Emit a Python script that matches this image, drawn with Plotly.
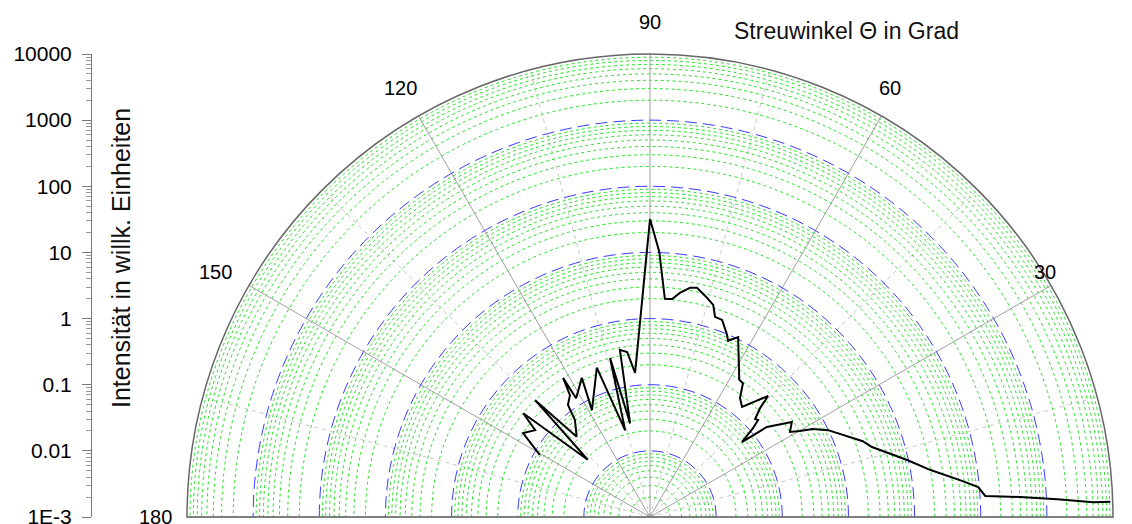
import plotly.graph_objects as go

# ---- data (scattering angle in degrees, intensity in arbitrary units) ----
theta_deg = [1.9, 1.9, 2.5, 3.1, 3.6, 5.2, 6.6, 9.5, 12.5, 17.5, 19.6, 26.0, 28.4, 29.8,
             31.3, 33.8, 37.6, 39.2, 40.8, 41.9, 43.0, 44.7, 45.7, 50.1, 52.9, 55.2,
             57.0, 63.9, 66.1, 67.1, 69.9, 72.0, 73.4, 75.4, 78.4, 80.1, 82.4, 84.2,
             86.1, 88.0, 90.0, 95.9, 97.9, 100.2, 102.0, 104.1, 106.0, 109.6, 118.5,
             116.1, 121.9, 122.0, 123.3, 126.2, 127.7, 132.4, 134.5, 137.4, 140.7,
             142.9, 146.5, 150.6]
intensity = [9200, 5100, 1460, 400, 120, 96, 56, 20, 9.6, 3.3, 2.6, 0.99, 0.63, 0.41,
             0.30, 0.38, 0.17, 0.062, 0.115, 0.157, 0.149, 0.22, 0.36, 0.148, 0.18, 0.29,
             0.30, 1.07, 0.82, 0.98, 1.49, 1.52, 2.22, 2.65, 3.44, 3.29, 2.62, 2.06,
             2.02, 10.3, 32, 0.155, 0.33, 0.37, 0.028, 0.30, 0.023, 0.25, 0.069,
             0.22, 0.13, 0.30, 0.16, 0.126, 0.072, 0.044, 0.30, 0.019, 0.30,
             0.15, 0.20, 0.082]

angle_ticks = [0, 30, 60, 90, 120, 150, 180]
angle_minor = [15, 45, 75, 105, 135, 165]
decade_vals = [1e-3, 1e-2, 1e-1, 1, 10, 100, 1000, 10000]
decade_text = ["1E-3", "0.01", "0.1", "1", "10", "100", "1000", "10000"]

major_grid = decade_vals[1:-1]
minor_vals = [m * d for d in decade_vals[:-1] for m in range(2, 10)]

FONT = "Liberation Sans, Arial, sans-serif"
W, H = 1132, 524

# label anchor positions (paper pixels from top-left) for the angle labels
angle_label_pos = {0: (1124, 509), 30: (1037, 264), 60: (882, 80), 90: (642, 14),
                   120: (392, 80), 150: (207, 264), 180: (147, 509)}

fig = go.Figure()

# underlying polar: minor (green) circles and dashed 15° spokes
fig.add_trace(go.Scatterpolar(r=[], theta=[], subplot="polar", showlegend=False,
                              mode="lines", hoverinfo="skip"))
# data curve on top polar
fig.add_trace(go.Scatterpolar(r=intensity, theta=theta_deg, subplot="polar2",
                              mode="lines", line=dict(color="black", width=2),
                              showlegend=False))
# dummy trace for the left intensity axis
fig.add_trace(go.Scatter(x=[0], y=[1], mode="markers", marker=dict(opacity=0),
                         showlegend=False, hoverinfo="skip", xaxis="x", yaxis="y"))

dom_x = [179 / W, 1105 / W]
dom_y = [15 / H, 478 / H]

annotations = [
    dict(text="Intensität in willk. Einheiten", x=113 / W, y=274 / H,
         xref="paper", yref="paper", textangle=-90, showarrow=False,
         font=dict(size=25, family=FONT, color="#111111"),
         xanchor="center", yanchor="middle"),
    dict(text="Streuwinkel Θ in Grad", x=838 / W, y=501 / H,
         xref="paper", yref="paper", showarrow=False,
         font=dict(size=23, family=FONT, color="#111111"),
         xanchor="center", yanchor="middle"),
]
for a in angle_ticks:
    px, py = angle_label_pos[a]
    annotations.append(dict(text=str(a), x=px / W, y=(H - py) / H,
                            xref="paper", yref="paper", showarrow=False,
                            font=dict(size=20, family=FONT, color="black"),
                            xanchor="center", yanchor="middle"))

fig.update_layout(
    width=W, height=H,
    margin=dict(l=0, r=0, t=0, b=0, autoexpand=False),
    paper_bgcolor="white", plot_bgcolor="rgba(0,0,0,0)",
    font=dict(family=FONT, color="black"),
    polar=dict(
        domain=dict(x=dom_x, y=dom_y),
        sector=[0, 180],
        bgcolor="rgba(0,0,0,0)",
        radialaxis=dict(type="log", range=[-3, 4], tickvals=minor_vals,
                        showticklabels=False, ticks="", showline=False,
                        gridcolor="#22e022", griddash="3px,3px", gridwidth=1),
        angularaxis=dict(tickvals=angle_minor, showticklabels=False, ticks="",
                         showline=False, gridcolor="#c8c8c8", griddash="4px,4px",
                         gridwidth=1),
    ),
    polar2=dict(
        domain=dict(x=dom_x, y=dom_y),
        sector=[0, 180],
        bgcolor="rgba(0,0,0,0)",
        radialaxis=dict(type="log", range=[-3, 4], tickvals=major_grid,
                        showticklabels=False, ticks="", showline=False,
                        gridcolor="#3a3aff", griddash="12px,6px", gridwidth=1),
        angularaxis=dict(tickvals=angle_ticks, showticklabels=False, ticks="",
                         showline=True, linecolor="#666666", linewidth=1.5,
                         gridcolor="#a0a0a0", gridwidth=1),
    ),
    xaxis=dict(domain=[84 / W, 85 / W], visible=False, range=[0, 1]),
    yaxis=dict(type="log", range=[-3, 4], domain=dom_y,
               anchor="x", side="left", automargin=False,
               tickvals=decade_vals, ticktext=decade_text,
               ticks="outside", ticklen=9, tickcolor="#777777",
               showline=True, linecolor="#777777", linewidth=1,
               showgrid=False, zeroline=False,
               ticklabelstandoff=6,
               tickfont=dict(size=21, family=FONT, color="black"),
               minor=dict(tickvals=minor_vals, ticks="outside", ticklen=5,
                          tickcolor="#999999", showgrid=False)),
    annotations=annotations,
)

fig.write_html("out.html")
